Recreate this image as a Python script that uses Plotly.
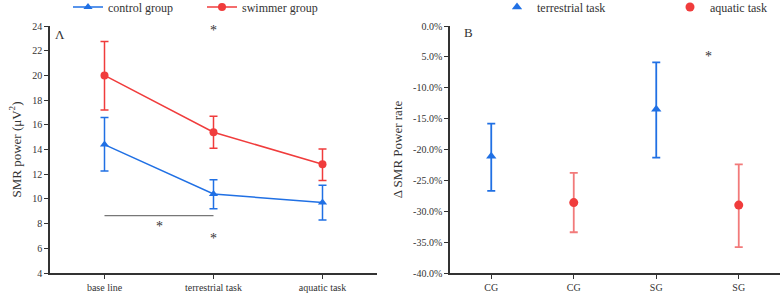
import plotly.graph_objects as go

# ---- data: panel A ----
phases = ["base line", "terrestrial task", "aquatic task"]
control_mean = [14.4, 10.4, 9.7]
control_upper = [16.6, 11.55, 11.1]
control_lower = [12.25, 9.2, 8.3]
swimmer_mean = [20.0, 15.4, 12.8]
swimmer_upper = [22.75, 16.7, 14.05]
swimmer_lower = [17.2, 14.1, 11.5]
a_yticks = [4, 6, 8, 10, 12, 14, 16, 18, 20, 22, 24]

# ---- data: panel B ----
b_labels = ["CG", "CG", "SG", "SG"]
terr_pos = [0, 2]
terr_mean = [-21.1, -13.5]
terr_upper = [-15.8, -5.9]
terr_lower = [-26.7, -21.3]
aqua_pos = [1, 3]
aqua_mean = [-28.6, -29.0]
aqua_upper = [-23.8, -22.4]
aqua_lower = [-33.4, -35.8]
b_yticks = [0, -5, -10, -15, -20, -25, -30, -35, -40]
b_yticklabels = ["0.0%", "5.0%", "-10.0%", "-15.0%", "-20.0%", "-25.0%", "-30.0%", "-35.0%", "-40.0%"]

BLUE = "#2070E4"
RED = "#F03C3C"
LRED = "#F27A7A"
FONT = "Liberation Serif, Times New Roman, serif"
TXT = "#333333"

def plus(u, m):
    return [a - b for a, b in zip(u, m)]

def minus(m, l):
    return [a - b for a, b in zip(m, l)]

fig = go.Figure()

fig.add_trace(go.Scatter(
    x=[0, 1, 2], y=control_mean, mode="lines+markers", name="control group",
    line=dict(color=BLUE, width=1.5),
    marker=dict(symbol="triangle-up", size=8, color=BLUE),
    error_y=dict(type="data", symmetric=False, array=plus(control_upper, control_mean),
                 arrayminus=minus(control_mean, control_lower), color=BLUE, thickness=1.5, width=4),
    xaxis="x", yaxis="y", legend="legend"))
fig.add_trace(go.Scatter(
    x=[0, 1, 2], y=swimmer_mean, mode="lines+markers", name="swimmer group",
    line=dict(color=RED, width=1.5),
    marker=dict(symbol="circle", size=8, color=RED),
    error_y=dict(type="data", symmetric=False, array=plus(swimmer_upper, swimmer_mean),
                 arrayminus=minus(swimmer_mean, swimmer_lower), color=RED, thickness=1.5, width=4),
    xaxis="x", yaxis="y", legend="legend"))

fig.add_trace(go.Scatter(
    x=terr_pos, y=terr_mean, mode="markers", name="terrestrial task",
    marker=dict(symbol="triangle-up", size=9, color=BLUE),
    error_y=dict(type="data", symmetric=False, array=plus(terr_upper, terr_mean),
                 arrayminus=minus(terr_mean, terr_lower), color=BLUE, thickness=1.8, width=4),
    xaxis="x2", yaxis="y2", legend="legend2"))
fig.add_trace(go.Scatter(
    x=aqua_pos, y=aqua_mean, mode="markers", name="aquatic task",
    marker=dict(symbol="circle", size=9, color=RED),
    error_y=dict(type="data", symmetric=False, array=plus(aqua_upper, aqua_mean),
                 arrayminus=minus(aqua_mean, aqua_lower), color=LRED, thickness=1.8, width=4),
    xaxis="x2", yaxis="y2", legend="legend2"))

axis_common = dict(showline=True, linecolor="#333333", linewidth=1.5, ticks="outside",
                   ticklen=4, tickcolor="#333333", tickwidth=1.2, showgrid=False, zeroline=False,
                   automargin=False,
                   tickfont=dict(family=FONT, size=10, color=TXT))

ydom = [26 / 299, 273 / 299]
fig.update_layout(
    width=782, height=299, margin=dict(l=0, r=0, t=0, b=0, autoexpand=False),
    paper_bgcolor="white", plot_bgcolor="white",
    font=dict(family=FONT, color=TXT),
    xaxis=dict(domain=[50 / 782, 377 / 782], range=[-0.5, 2.5], tickvals=[0, 1, 2],
               ticktext=phases, anchor="y", **axis_common),
    yaxis=dict(domain=ydom, range=[4, 24], tickvals=a_yticks, anchor="x",
               title=dict(text="SMR power (μV<sup>2</sup>)", font=dict(family=FONT, size=13, color=TXT), standoff=8),
               **axis_common),
    xaxis2=dict(domain=[450 / 782, 780 / 782], range=[-0.5, 3.5], tickvals=[0, 1, 2, 3],
                ticktext=b_labels, anchor="y2", **axis_common),
    yaxis2=dict(domain=ydom, range=[-40, 0], tickvals=b_yticks, ticktext=b_yticklabels, anchor="x2",
                title=dict(text="Δ SMR Power rate", font=dict(family=FONT, size=13, color=TXT), standoff=8),
                **axis_common),
    legend=dict(orientation="h", x=68 / 782, xanchor="left", y=1.025, yanchor="top",
                entrywidth=89, font=dict(family=FONT, size=12, color=TXT), bgcolor="rgba(0,0,0,0)",
                tracegroupgap=0),
    legend2=dict(orientation="h", x=497 / 782, xanchor="left", y=1.025, yanchor="top",
                 entrywidth=128, font=dict(family=FONT, size=12, color=TXT), bgcolor="rgba(0,0,0,0)",
                 itemwidth=30),
    showlegend=True,
)

fig.add_shape(type="line", x0=0, x1=1, y0=8.65, y1=8.65, xref="x", yref="y",
              line=dict(color="#777777", width=1.2))

ann_font = dict(family=FONT, size=14, color=TXT)
fig.add_annotation(x=1, y=23.6, xref="x", yref="y", text="*", showarrow=False, font=ann_font)
fig.add_annotation(x=0.5, y=7.8, xref="x", yref="y", text="*", showarrow=False, font=ann_font)
fig.add_annotation(x=1, y=6.8, xref="x", yref="y", text="*", showarrow=False, font=ann_font)
fig.add_annotation(x=2.63, y=-4.9, xref="x2", yref="y2", text="*", showarrow=False, font=ann_font)
fig.add_annotation(x=-0.47, y=23.3, xref="x", yref="y", text="Λ", showarrow=False,
                   xanchor="left", font=dict(family=FONT, size=13, color=TXT))
fig.add_annotation(x=-0.35, y=-1.1, xref="x2", yref="y2", text="B", showarrow=False,
                   xanchor="left", font=dict(family=FONT, size=13, color=TXT))

fig.write_html("out.html")
